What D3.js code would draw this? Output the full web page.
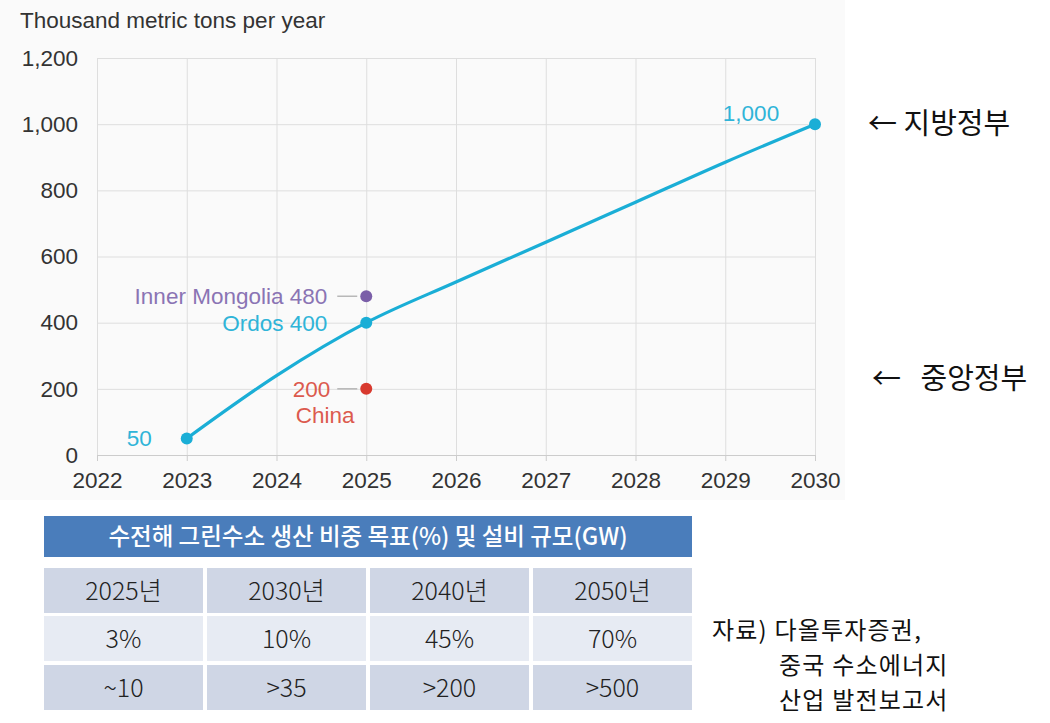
<!DOCTYPE html>
<html>
<head>
<meta charset="utf-8">
<script src="https://cdn.jsdelivr.net/npm/d3@7"></script>
<style>
  body { margin: 0; background: #fff; }
  svg { display: block; }
</style>
</head>
<body>
<svg width="1050" height="723"></svg>
<script>
var width = 1050;
var height = 723;

// chart data
var unitLabel = "Thousand metric tons per year";
var xTicks = [2022, 2023, 2024, 2025, 2026, 2027, 2028, 2029, 2030];
var yTicks = [0, 200, 400, 600, 800, 1000, 1200];
// the plotted trajectory
var pathYears = [2023, 2024, 2025, 2026, 2027, 2028, 2029, 2030];
var pathValues = [50, 240, 400, 523, 643, 764, 885, 1000];
// marked targets
var targetYears = [2023, 2025, 2030];
var targetValues = [50, 400, 1000];
var targetLabels = ["50", "Ordos 400", "1,000"];
var otherNames = ["Inner Mongolia", "China"];
var otherYears = [2025, 2025];
var otherValues = [480, 200];

// side notes + table
var sideNotes = ["\u2190 지방정부", "\u2190   중앙정부"];
var sideNoteValues = [1000, 230];
var tableTitle = "수전해 그린수소 생산 비중 목표(%) 및 설비 규모(GW)";
var tableYears = ["2025년", "2030년", "2040년", "2050년"];
var shareTargets = ["3%", "10%", "45%", "70%"];
var capacityTargets = ["~10", ">35", ">200", ">500"];
var sourceLines = ["자료) 다올투자증권,", "중국 수소에너지", "산업 발전보고서"];

var cyan = "#1aaed6";
var purple = "#7a5ea8";
var red = "#d8392e";
var latin = "'Liberation Sans', Arial, sans-serif";
var korean = "'Noto Sans CJK KR', sans-serif";
var fs = "22.5px";

var svg = d3.select("svg");

// light panel behind the chart
svg.append("rect")
    .attr("x", 0).attr("y", 0)
    .attr("width", 845).attr("height", 500)
    .attr("fill", "#fafafa");

var x = d3.scaleLinear().domain([2022, 2030]).range([97, 815]);
var y = d3.scaleLinear().domain([0, 1200]).range([455, 58]);

svg.append("text")
    .attr("x", 20).attr("y", 28)
    .attr("font-family", latin)
    .attr("font-size", fs)
    .attr("fill", "#333")
    .text(unitLabel);

// grid
svg.append("g")
    .attr("transform", "translate(0,455)")
    .call(d3.axisBottom(x).tickValues(xTicks).tickSize(-397).tickFormat(""))
    .call(function (g) {
        g.select(".domain").remove();
        g.selectAll("line").attr("stroke", "#dedede");
    });
svg.append("g")
    .attr("transform", "translate(97,0)")
    .call(d3.axisLeft(y).tickValues(yTicks.slice(1)).tickSize(-718).tickFormat(""))
    .call(function (g) {
        g.select(".domain").remove();
        g.selectAll("line").attr("stroke", "#dedede");
    });

// axes
svg.append("g")
    .attr("transform", "translate(0,455)")
    .call(d3.axisBottom(x).tickValues(xTicks).tickSize(6).tickPadding(11).tickFormat(d3.format("d")))
    .call(function (g) {
        g.select(".domain").attr("stroke", "#cccccc");
        g.selectAll("line").attr("stroke", "#cccccc");
        g.selectAll("text")
            .attr("font-family", latin)
            .attr("font-size", fs)
            .attr("fill", "#333");
    });
svg.append("g")
    .attr("transform", "translate(78,0)")
    .call(d3.axisLeft(y).tickValues(yTicks).tickSize(0).tickPadding(0).tickFormat(d3.format(",")))
    .call(function (g) {
        g.select(".domain").remove();
        g.selectAll("text")
            .attr("font-family", latin)
            .attr("font-size", fs)
            .attr("fill", "#333");
    });

// trajectory
var line = d3.line()
    .x(function (d, i) { return x(pathYears[i]); })
    .y(function (d) { return y(d); })
    .curve(d3.curveMonotoneX);

svg.append("path")
    .datum(pathValues)
    .attr("d", line)
    .attr("fill", "none")
    .attr("stroke", cyan)
    .attr("stroke-width", 3.2);

svg.selectAll(".target")
    .data(targetValues)
    .enter()
    .append("circle")
    .attr("class", "target")
    .attr("cx", function (d, i) { return x(targetYears[i]); })
    .attr("cy", function (d) { return y(d); })
    .attr("r", 6)
    .attr("fill", cyan);

// value labels on the line
var labelDx = [-35, -39, -64];
var labelDy = [0, 0, -11];
svg.selectAll(".tlabel")
    .data(targetLabels)
    .enter()
    .append("text")
    .attr("class", "tlabel")
    .attr("x", function (d, i) { return x(targetYears[i]) + labelDx[i]; })
    .attr("y", function (d, i) { return y(targetValues[i]) + labelDy[i]; })
    .attr("dy", "0.35em")
    .attr("text-anchor", function (d, i) { return i === 2 ? "middle" : "end"; })
    .attr("font-family", latin)
    .attr("font-size", fs)
    .attr("fill", "#2fb4d8")
    .text(function (d) { return d; });

// regional / national points
var otherColors = [purple, red];
var otherText = ["#8a74b4", "#dc5a4e"];
otherValues.forEach(function (v, i) {
    var cx = x(otherYears[i]);
    var cy = y(v);
    svg.append("line")
        .attr("x1", cx - 29).attr("x2", cx - 9)
        .attr("y1", cy).attr("y2", cy)
        .attr("stroke", "#a8a8a8")
        .attr("stroke-width", 1.2);
    svg.append("circle")
        .attr("cx", cx).attr("cy", cy)
        .attr("r", 6)
        .attr("fill", otherColors[i]);
    if (i === 0) {
        svg.append("text")
            .attr("x", cx - 39).attr("y", cy)
            .attr("dy", "0.35em")
            .attr("text-anchor", "end")
            .attr("font-family", latin)
            .attr("font-size", fs)
            .attr("fill", otherText[i])
            .text(otherNames[i] + " " + v);
    } else {
        svg.append("text")
            .attr("x", cx - 36).attr("y", cy)
            .attr("dy", "0.35em")
            .attr("text-anchor", "end")
            .attr("font-family", latin)
            .attr("font-size", fs)
            .attr("fill", otherText[i])
            .text(v);
        svg.append("text")
            .attr("x", cx - 41).attr("y", cy + 26)
            .attr("dy", "0.35em")
            .attr("text-anchor", "middle")
            .attr("font-family", latin)
            .attr("font-size", fs)
            .attr("fill", otherText[i])
            .text(otherNames[i]);
    }
});

// arrows on the right
svg.selectAll(".side")
    .data(sideNotes)
    .enter()
    .append("text")
    .attr("class", "side")
    .attr("x", function (d, i) { return i === 0 ? 868 : 872; })
    .attr("y", function (d, i) { return y(sideNoteValues[i]); })
    .attr("dy", "0.35em")
    .attr("font-family", korean)
    .attr("font-size", "29px")
    .attr("fill", "#111")
    .style("white-space", "pre")
    .text(function (d) { return d; });

// table
var colW = 159;

svg.append("rect")
    .attr("x", 44).attr("y", 516)
    .attr("width", 648).attr("height", 41)
    .attr("fill", "#4a7dbb");
svg.append("text")
    .attr("x", 368).attr("y", 537)
    .attr("dy", "0.35em")
    .attr("text-anchor", "middle")
    .attr("font-family", korean)
    .attr("font-weight", 500)
    .attr("font-size", "23.5px")
    .attr("fill", "#fff")
    .text(tableTitle);

var rows = [tableYears, shareTargets, capacityTargets];
var rowY = [568, 616, 665];
var rowFill = ["#cfd6e5", "#e7ebf3", "#cfd6e5"];
rows.forEach(function (row, r) {
    var g = svg.append("g");
    g.selectAll("rect")
        .data(row)
        .enter()
        .append("rect")
        .attr("x", function (d, i) { return 44 + i * 163; })
        .attr("y", rowY[r])
        .attr("width", colW)
        .attr("height", 45)
        .attr("fill", rowFill[r]);
    g.selectAll("text")
        .data(row)
        .enter()
        .append("text")
        .attr("x", function (d, i) { return 44 + i * 163 + colW / 2; })
        .attr("y", rowY[r] + 23)
        .attr("dy", "0.35em")
        .attr("text-anchor", "middle")
        .attr("font-family", korean)
        .attr("font-weight", 300)
        .attr("font-size", "25px")
        .attr("fill", "#222")
        .text(function (d) { return d; });
});

// source note
svg.selectAll(".src")
    .data(sourceLines)
    .enter()
    .append("text")
    .attr("class", "src")
    .attr("x", function (d, i) { return i === 0 ? 712 : 779; })
    .attr("y", function (d, i) { return 631 + i * 35; })
    .attr("dy", "0.35em")
    .attr("font-family", korean)
    .attr("font-size", "24px")
    .attr("letter-spacing", "1.2px")
    .attr("fill", "#111")
    .text(function (d) { return d; });
</script>
</body>
</html>
